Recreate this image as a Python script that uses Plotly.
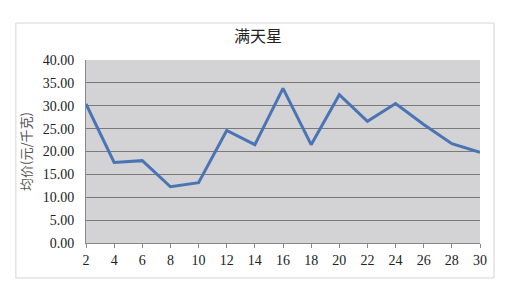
import plotly.graph_objects as go

days = ["2", "4", "6", "8", "10", "12", "14", "16", "18", "20", "22", "24", "26", "28", "30"]
prices = [30.4, 17.6, 18.0, 12.3, 13.2, 24.6, 21.5, 33.8, 21.5, 32.4, 26.6, 30.5, 25.9, 21.7, 19.8]
y_ticks = [0, 5, 10, 15, 20, 25, 30, 35, 40]
y_labels = [f"{v:.2f}" for v in y_ticks]

fig = go.Figure()
fig.add_trace(go.Scatter(
    x=days, y=prices, mode="lines",
    line=dict(color="#4a74b4", width=3),
    hoverinfo="skip",
))

fig.update_layout(
    width=506, height=295,
    margin=dict(l=86, r=26, t=60, b=52),
    paper_bgcolor="white",
    plot_bgcolor="#d3d3d5",
    showlegend=False,
    title=dict(text="满天星", x=0.51, xanchor="center", y=0.875, yanchor="middle",
               font=dict(family="Noto Sans CJK SC", size=16, color="#222")),
    shapes=[dict(type="rect", xref="paper", yref="paper",
                 x0=-0.178, x1=1.0355, y0=-0.191, y1=1.202,
                 line=dict(color="#d4d4d4", width=1), layer="below")],
)

fig.update_xaxes(
    type="category", range=[0, 14],
    showgrid=False, showline=True, linecolor="#888", linewidth=1,
    ticks="outside", ticklen=4, tickcolor="#888",
    tickfont=dict(family="Liberation Serif", size=14, color="#222"),
    zeroline=False,
)
fig.update_yaxes(
    range=[0, 40], tickvals=y_ticks, ticktext=y_labels,
    showgrid=True, gridcolor="#7a7a7a", gridwidth=1,
    showline=True, linecolor="#888", linewidth=1,
    ticks="", ticklabelstandoff=8,
    tickfont=dict(family="Liberation Serif", size=14, color="#222"),
    title=dict(text="均价(元/千克)", standoff=8,
               font=dict(family="Noto Sans CJK SC", size=13, color="#555")),
    zeroline=False,
)

fig.write_html("out.html")
